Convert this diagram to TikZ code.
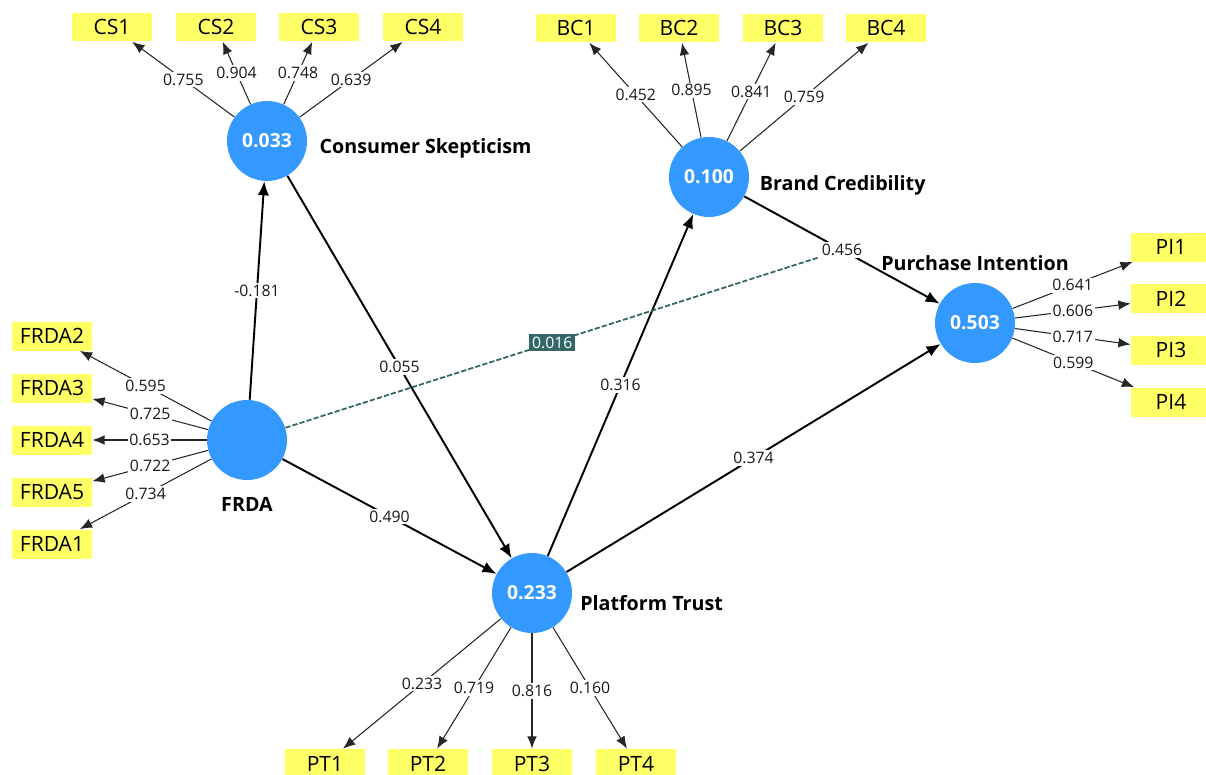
\documentclass[tikz,border=0pt]{standalone}
\usepackage{fontspec}
\setmainfont{Open Sans}
\usetikzlibrary{arrows.meta}
\definecolor{lvblue}{RGB}{51,153,255}
\definecolor{mvyellow}{RGB}{255,255,102}
\definecolor{modteal}{RGB}{51,102,102}
\tikzset{
  lv/.style={fill=lvblue, shape=circle, minimum size=1.6cm, inner sep=0pt, text=white, font=\fontsize{11}{13}\selectfont\bfseries},
  mv/.style={fill=mvyellow, minimum width=1.6cm, minimum height=0.58cm, inner sep=0pt, font=\fontsize{12}{14}\selectfont},
  lvname/.style={font=\fontsize{11.2}{13}\selectfont\bfseries, text=black},
  ind/.style={-{Latex[length=7pt,width=5.5pt]}, line width=0.6pt, draw=black!85},
  strp/.style={-{Latex[length=8pt,width=6.5pt]}, line width=1.1pt},
  modp/.style={modteal, line width=1pt, dash pattern=on 3pt off 1.2pt},
  lbl/.style={fill=white, inner sep=1pt, text=black!90, font=\fontsize{9}{11}\selectfont},
  lblm/.style={fill=modteal, inner sep=1.5pt, text=white, font=\fontsize{9}{11}\selectfont},
}
\begin{document}
\begin{tikzpicture}[x=0.02cm, y=-0.02cm]
            \useasboundingbox (0,0) rectangle (1206,774);

            \node[lv, label={[lvname, label distance=3.5pt, yshift=-4pt]right:Consumer Skepticism}] (CS) at (267,141) {0.033};
            \node[lv, label={[lvname, label distance=2.5pt, yshift=-4.5pt]right:Brand Credibility}] (BC) at (709,177) {0.100};
            \node[lv, label={[lvname, label distance=6pt]below:FRDA}] (FRDA) at (247,440) {};
            \node[lv, label={[lvname, label distance=3.5pt]above:Purchase Intention}] (PI) at (975,323) {0.503};
            \node[lv, label={[lvname, label distance=1pt, yshift=-5.5pt]right:Platform Trust}] (PT) at (532,593) {0.233};

            \node[mv] (CS1) at (112,27) {CS1};
            \node[mv] (CS2) at (216,27) {CS2};
            \node[mv] (CS3) at (319,27) {CS3};
            \node[mv] (CS4) at (423,27) {CS4};

            \draw[ind] (CS) -- node[lbl] {0.755} (CS1);
            \draw[ind] (CS) -- node[lbl] {0.904} (CS2);
            \draw[ind] (CS) -- node[lbl] {0.748} (CS3);
            \draw[ind] (CS) -- node[lbl] {0.639} (CS4);

            \node[mv] (BC1) at (576,28) {BC1};
            \node[mv] (BC2) at (679,28) {BC2};
            \node[mv] (BC3) at (783,28) {BC3};
            \node[mv] (BC4) at (886,28) {BC4};

            \draw[ind] (BC) -- node[lbl] {0.452} (BC1);
            \draw[ind] (BC) -- node[lbl] {0.895} (BC2);
            \draw[ind] (BC) -- node[lbl] {0.841} (BC3);
            \draw[ind] (BC) -- node[lbl] {0.759} (BC4);

            \node[mv] (FRDA2) at (52,336) {FRDA2};
            \node[mv] (FRDA3) at (52,388) {FRDA3};
            \node[mv] (FRDA4) at (52,440) {FRDA4};
            \node[mv] (FRDA5) at (52,492) {FRDA5};
            \node[mv] (FRDA1) at (52,544) {FRDA1};

            \draw[ind] (FRDA) -- node[lbl] {0.595} (FRDA2);
            \draw[ind] (FRDA) -- node[lbl] {0.725} (FRDA3);
            \draw[ind] (FRDA) -- node[lbl] {0.653} (FRDA4);
            \draw[ind] (FRDA) -- node[lbl] {0.722} (FRDA5);
            \draw[ind] (FRDA) -- node[lbl] {0.734} (FRDA1);

            \node[mv] (PI1) at (1171,247) {PI1};
            \node[mv] (PI2) at (1171,298.5) {PI2};
            \node[mv] (PI3) at (1171,350) {PI3};
            \node[mv] (PI4) at (1171,402) {PI4};

            \draw[ind] (PI) -- node[lbl] {0.641} (PI1);
            \draw[ind] (PI) -- node[lbl] {0.606} (PI2);
            \draw[ind] (PI) -- node[lbl] {0.717} (PI3);
            \draw[ind] (PI) -- node[lbl] {0.599} (PI4);

            \node[mv] (PT1) at (325,763.5) {PT1};
            \node[mv] (PT2) at (428,763.5) {PT2};
            \node[mv] (PT3) at (532,763.5) {PT3};
            \node[mv] (PT4) at (636,763.5) {PT4};

            \draw[ind] (PT) -- node[lbl] {0.233} (PT1);
            \draw[ind] (PT) -- node[lbl] {0.719} (PT2);
            \draw[ind] (PT) -- node[lbl] {0.816} (PT3);
            \draw[ind] (PT) -- node[lbl] {0.160} (PT4);

            \draw[strp] (FRDA) -- node[lbl] {-0.181} (CS);
            \draw[strp] (CS) -- node[lbl] {0.055} (PT);
            \draw[strp] (FRDA) -- node[lbl] {0.490} (PT);
            \draw[strp] (PT) -- node[lbl] {0.316} (BC);
            \draw[strp] (PT) -- node[lbl] {0.374} (PI);
            \draw[strp] (BC) -- node[lbl] (M456) {0.456} (PI);

            \draw[modp] (FRDA) -- node[lblm] {0.016} (M456);
        \end{tikzpicture}
\end{document}
